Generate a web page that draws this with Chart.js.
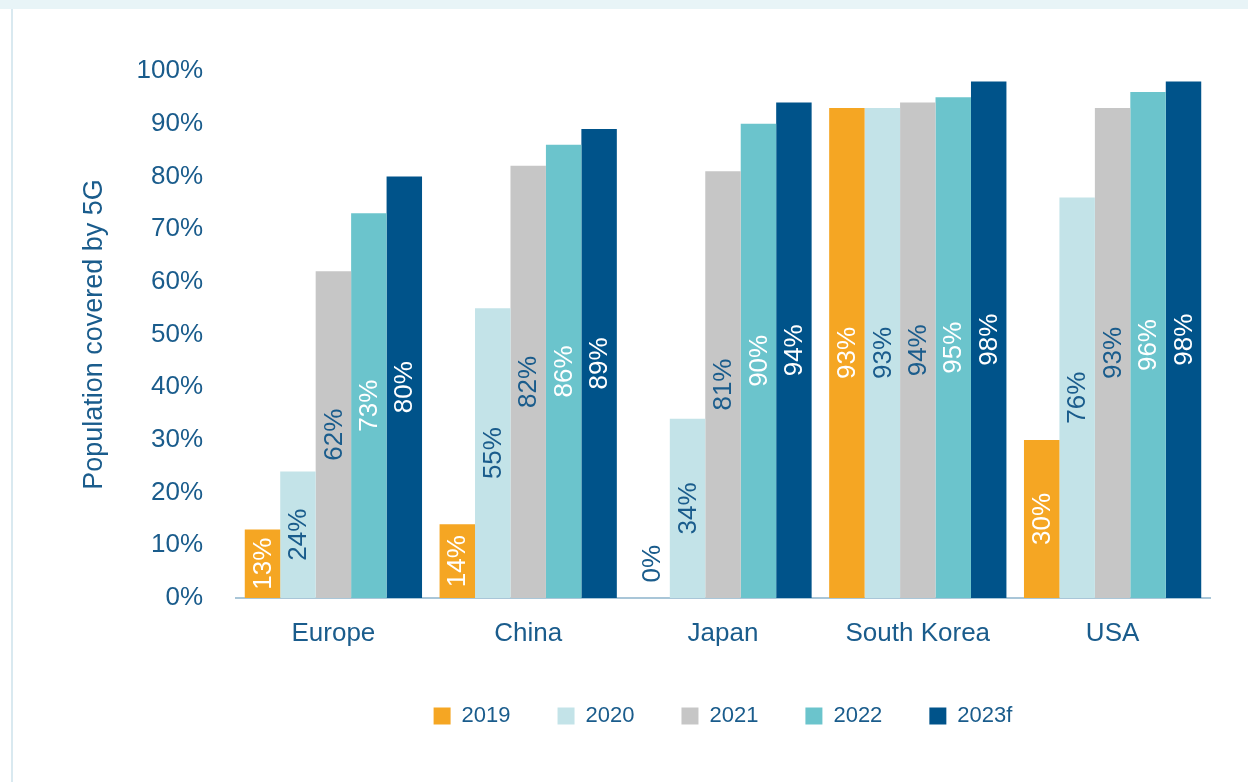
<!DOCTYPE html>
<html>
<head>
<meta charset="utf-8">
<script src="https://cdn.jsdelivr.net/npm/chart.js@4"></script>
<style>
  html, body { margin: 0; padding: 0; background: #fff; }
  #band { position: absolute; left: 0; top: 0; width: 1248px; height: 9px; background: #e8f4f7; }
  #edge { position: absolute; left: 11px; top: 9px; width: 2px; height: 773px; background: #d9e9f0; }
  #wrap { position: absolute; left: 0; top: 0; width: 1248px; height: 782px; }
</style>
</head>
<body>
<div id="band"></div>
<div id="edge"></div>
<div id="wrap"><canvas id="chart" width="1248" height="782"></canvas></div>
<script>
// Countries on the x axis
const categories = ['Europe', 'China', 'Japan', 'South Korea', 'USA'];
const years = ['2019', '2020', '2021', '2022', '2023f'];

// Population covered by 5G (%), one array per year
const cov2019 = [13, 14, 0, 93, 30];
const cov2020 = [24, 55, 34, 93, 76];
const cov2021 = [62, 82, 81, 94, 93];
const cov2022 = [73, 86, 90, 95, 96];
const cov2023 = [80, 89, 94, 98, 98];

const barColors = ['#f5a623', '#c3e3e8', '#c6c6c6', '#6bc4cc', '#00538a'];
const labelColors = ['#ffffff', '#1a5c8c', '#1a5c8c', '#ffffff', '#ffffff'];
const textBlue = '#1a5c8c';
const fontFamily = '"Liberation Sans", Arial, Helvetica, sans-serif';

const series = [cov2019, cov2020, cov2021, cov2022, cov2023];

// Rotated value labels inside the bars
const barLabels = {
    id: 'barLabels',
    afterDatasetsDraw(chart) {
        const ctx = chart.ctx;
        const y = chart.scales.y;
        ctx.save();
        ctx.font = '26px ' + fontFamily;
        ctx.textAlign = 'center';
        ctx.textBaseline = 'middle';
        chart.data.datasets.forEach((ds, i) => {
            const meta = chart.getDatasetMeta(i);
            meta.data.forEach((bar, j) => {
                const v = ds.data[j];
                const py = y.getPixelForValue(Math.max(v / 2, 6.5));
                ctx.fillStyle = v === 0 ? textBlue : labelColors[i];
                ctx.save();
                ctx.translate(bar.x, py);
                ctx.rotate(-Math.PI / 2);
                ctx.fillText(v + '%', 0, 1);
                ctx.restore();
            });
        });
        ctx.restore();
    }
};

const ctx = document.getElementById('chart').getContext('2d');
new Chart(ctx, {
    type: 'bar',
    data: {
        labels: categories,
        datasets: years.map((yr, i) => ({
            label: yr,
            data: series[i],
            backgroundColor: barColors[i],
            borderWidth: 0,
            barPercentage: 1,
            categoryPercentage: 0.91
        }))
    },
    options: {
        responsive: false,
        animation: false,
        layout: { padding: { top: 71, left: 60, right: 38, bottom: 45 } },
        plugins: {
            tooltip: { enabled: false },
            legend: {
                position: 'bottom',
                fullSize: false,
                labels: {
                    boxWidth: 17,
                    boxHeight: 17,
                    padding: 47,
                    color: textBlue,
                    font: { family: fontFamily, size: 22 }
                }
            }
        },
        scales: {
            x: {
                grid: { display: false },
                border: { display: true, color: '#a9c6d8', width: 2 },
                ticks: { color: textBlue, padding: 12, font: { family: fontFamily, size: 26 } },
                afterFit(scale) { scale.height = 60; }
            },
            y: {
                min: 0,
                max: 100,
                grid: { display: false },
                border: { display: false },
                ticks: {
                    stepSize: 10,
                    color: textBlue,
                    padding: 25,
                    font: { family: fontFamily, size: 26 },
                    callback: v => v + '%'
                },
                title: {
                    display: true,
                    text: 'Population covered by 5G',
                    color: textBlue,
                    padding: { top: 18, bottom: 0 },
                    font: { family: fontFamily, size: 27 }
                },
                afterFit(scale) { scale.width = 176; }
            }
        }
    },
    plugins: [barLabels]
});
</script>
</body>
</html>
